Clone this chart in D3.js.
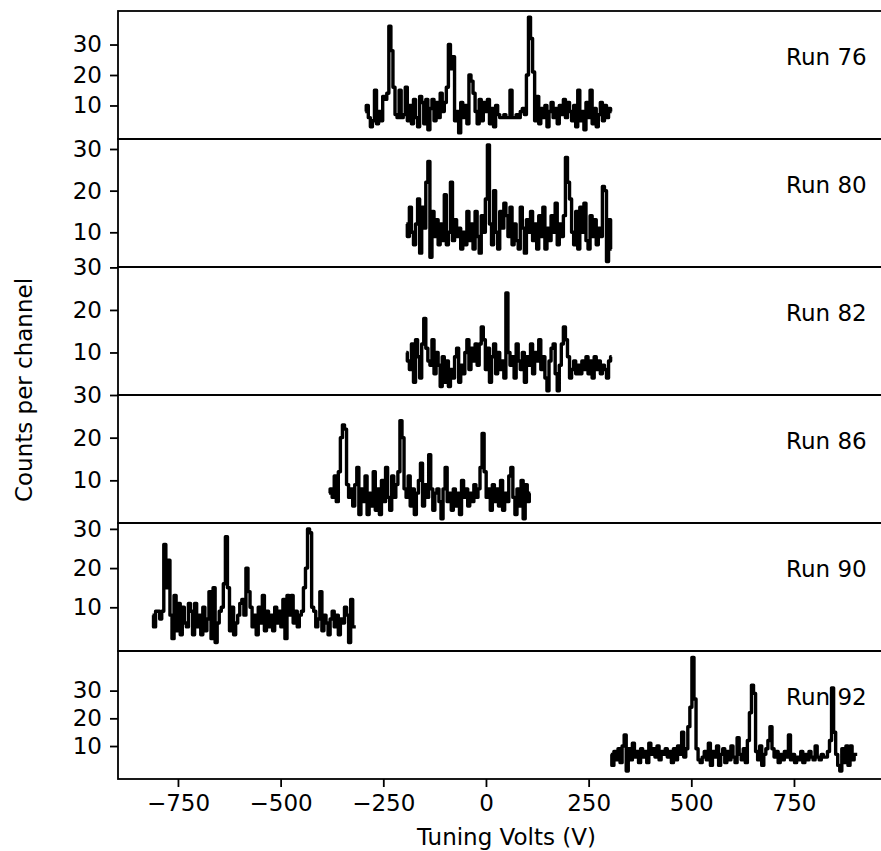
<!DOCTYPE html>
<html>
<head>
<meta charset="utf-8">
<script src="https://cdn.jsdelivr.net/npm/d3@7"></script>
<style>
  body { margin: 0; background: #fff; }
  svg { display: block; font-family: "DejaVu Sans", sans-serif; }
</style>
</head>
<body>
<svg id="grafico" width="881" height="851"></svg>
<script>
//nomi delle run, una per pannello dall'alto in basso
var runs = ['Run 76', 'Run 80', 'Run 82', 'Run 86', 'Run 90', 'Run 92'];

//tensione del primo canale e passo tra canali (V)
var inizioCanali = [-294, -194, -194, -382, -812, 304];
var passoCanali = 5;

//conteggi per canale
var run76 = [8, 10, 6, 3, 5, 15, 4, 8, 5, 13, 12, 14, 36, 28, 16, 7, 6, 15, 6, 7,
    16, 5, 10, 4, 12, 6, 3, 13, 11, 4, 12, 2, 9, 12, 5, 11, 6, 14, 8, 11,
    16, 30, 22, 26, 5, 8, 1, 11, 6, 10, 4, 20, 18, 14, 8, 4, 12, 5, 11, 8,
    12, 4, 9, 3, 10, 7, 6, 6, 7, 6, 6, 15, 6, 6, 7, 6, 8, 9, 7, 20,
    39, 32, 21, 5, 13, 4, 9, 6, 10, 3, 8, 11, 6, 9, 4, 10, 7, 12, 6, 11,
    8, 5, 10, 3, 15, 5, 8, 2, 11, 6, 15, 4, 9, 3, 7, 11, 5, 10, 6, 9, 8];
var run80 = [12, 9, 16, 10, 7, 12, 18, 5, 16, 11, 22, 27, 4, 15, 9, 13, 7, 12, 8, 19,
    7, 10, 22, 8, 13, 9, 11, 6, 10, 7, 15, 8, 12, 6, 15, 9, 5, 14, 10, 18,
    31, 12, 7, 20, 10, 6, 15, 11, 17, 14, 9, 16, 7, 12, 8, 6, 16, 11, 5, 13,
    10, 15, 8, 12, 6, 14, 9, 16, 6, 11, 8, 14, 10, 17, 7, 12, 9, 14, 28, 22,
    18, 10, 7, 15, 6, 16, 10, 17, 8, 6, 14, 9, 13, 7, 11, 9, 21, 20, 3, 13, 6];
var run82 = [10, 8, 6, 12, 3, 13, 9, 4, 12, 18, 11, 8, 7, 13, 5, 10, 7, 2, 9, 3,
    8, 2, 6, 4, 9, 11, 3, 7, 5, 10, 13, 6, 11, 8, 12, 7, 12, 16, 13, 6,
    11, 3, 9, 12, 5, 10, 6, 8, 4, 24, 10, 7, 9, 4, 12, 8, 6, 10, 3, 9,
    7, 12, 5, 10, 8, 13, 6, 9, 4, 1, 8, 11, 12, 5, 1, 7, 12, 16, 13, 9,
    4, 6, 8, 5, 7, 5, 8, 6, 9, 5, 8, 4, 9, 6, 8, 5, 7, 6, 4, 8, 9];
var run86 = [7, 8, 6, 11, 5, 12, 20, 23, 22, 9, 6, 8, 4, 9, 13, 2, 8, 5, 11, 2,
    7, 4, 12, 3, 8, 2, 10, 5, 13, 6, 3, 11, 6, 9, 12, 24, 20, 8, 6, 11,
    4, 8, 2, 7, 10, 14, 4, 9, 6, 16, 8, 3, 7, 8, 5, 1, 8, 13, 5, 7,
    3, 8, 4, 7, 2, 10, 6, 8, 4, 7, 5, 9, 6, 8, 13, 21, 12, 6, 8, 3,
    9, 5, 8, 4, 10, 3, 7, 5, 11, 13, 6, 2, 8, 4, 10, 1, 9, 5, 7];
var run90 = [8, 5, 9, 9, 7, 9, 26, 15, 22, 8, 2, 13, 4, 11, 3, 10, 6, 5, 11, 9,
    3, 11, 5, 8, 3, 10, 4, 7, 14, 2, 15, 1, 6, 9, 10, 16, 28, 15, 4, 10,
    3, 6, 8, 11, 12, 8, 20, 14, 10, 5, 8, 3, 10, 6, 13, 4, 9, 5, 8, 4,
    10, 6, 9, 5, 12, 2, 13, 8, 13, 6, 9, 5, 8, 9, 15, 20, 30, 29, 10, 9,
    5, 7, 14, 4, 8, 6, 3, 7, 9, 5, 8, 3, 7, 6, 10, 8, 1, 12, 5, 5];
var run92 = [7, 3, 8, 5, 9, 4, 10, 14, 1, 9, 5, 11, 6, 8, 4, 9, 6, 8, 4, 11,
    7, 9, 6, 10, 5, 8, 7, 9, 6, 8, 4, 9, 5, 10, 7, 15, 6, 9, 17, 24,
    42, 27, 9, 5, 4, 6, 8, 5, 11, 3, 8, 6, 10, 3, 7, 9, 4, 8, 5, 10,
    6, 4, 13, 7, 5, 9, 4, 12, 22, 32, 29, 8, 5, 10, 3, 7, 9, 12, 17, 9,
    6, 8, 4, 7, 5, 8, 6, 14, 5, 7, 4, 6, 5, 8, 4, 7, 5, 8, 6, 5,
    10, 6, 5, 7, 6, 6, 8, 12, 31, 15, 7, 3, 1, 9, 4, 10, 3, 10, 5, 7, 7];
var conteggi = [run76, run80, run82, run86, run90, run92];

//limiti dell'asse y di ogni pannello
var limitiY = [[-1, 41], [1.67, 32.4], [0, 30.1], [0, 30], [-1.15, 31.5], [-1.9, 44.3]];
var tickY = [10, 20, 30];
var tickX = [-750, -500, -250, 0, 250, 500, 750];

var svg = d3.select('#grafico');

var sinistra = 118, destra = 895, alto = 11, altezzaPannello = 128;
var fontSize = 23;

//scala x comune a tutti i pannelli
var x = d3.scaleLinear().domain([-896, 996]).range([sinistra, destra]);

//funzione che disegna un pannello con la sua serie
function disegnaPannello(k) {
    var top = alto + k * altezzaPannello;
    var y = d3.scaleLinear().domain(limitiY[k]).range([top + altezzaPannello, top]);

    var punti = conteggi[k].map(function(c, i) {
        return [inizioCanali[k] + i * passoCanali, c];
    });

    //linea a gradini come un istogramma dei canali
    var linea = d3.line()
        .curve(d3.curveStep)
        .x(function(d) { return x(d[0]); })
        .y(function(d) { return y(d[1]); });

    svg.append('path')
        .datum(punti)
        .attr('d', linea)
        .attr('fill', 'none')
        .attr('stroke', '#000')
        .attr('stroke-width', 3.4)
        .attr('stroke-linejoin', 'round')
        .attr('stroke-linecap', 'butt');

    //asse y con tick a 10, 20, 30
    var asseY = svg.append('g')
        .attr('transform', 'translate(' + sinistra + ',0)')
        .call(d3.axisLeft(y).tickValues(tickY).tickSize(8).tickPadding(8));
    asseY.select('.domain').remove();
    asseY.selectAll('line').attr('stroke-width', 1.8);
    asseY.selectAll('text')
        .style('font-size', fontSize + 'px')
        .style('font-family', '"DejaVu Sans", sans-serif')
        .attr('fill', '#000');

    //cornice del pannello
    svg.append('rect')
        .attr('x', sinistra)
        .attr('y', top)
        .attr('width', destra - sinistra)
        .attr('height', altezzaPannello)
        .attr('fill', 'none')
        .attr('stroke', '#000')
        .attr('stroke-width', 1.8);

    svg.append('text')
        .attr('x', 786)
        .attr('y', top + 54)
        .style('font-size', fontSize + 'px')
        .text(runs[k]);
}

for (var k = 0; k < runs.length; k++) {
    disegnaPannello(k);
}

//asse x in fondo all'ultimo pannello
var basso = alto + runs.length * altezzaPannello;
var asseX = svg.append('g')
    .attr('transform', 'translate(0,' + basso + ')')
    .call(d3.axisBottom(x).tickValues(tickX).tickSize(8).tickPadding(8));
asseX.select('.domain').remove();
asseX.selectAll('line').attr('stroke-width', 1.8);
asseX.selectAll('text')
    .style('font-size', fontSize + 'px')
    .style('font-family', '"DejaVu Sans", sans-serif')
    .attr('fill', '#000');

svg.append('text')
    .attr('x', (sinistra + destra) / 2)
    .attr('y', 845)
    .attr('text-anchor', 'middle')
    .style('font-size', fontSize + 'px')
    .text('Tuning Volts (V)');

svg.append('text')
    .attr('transform', 'translate(32,390) rotate(-90)')
    .attr('text-anchor', 'middle')
    .style('font-size', fontSize + 'px')
    .text('Counts per channel');
</script>
</body>
</html>
